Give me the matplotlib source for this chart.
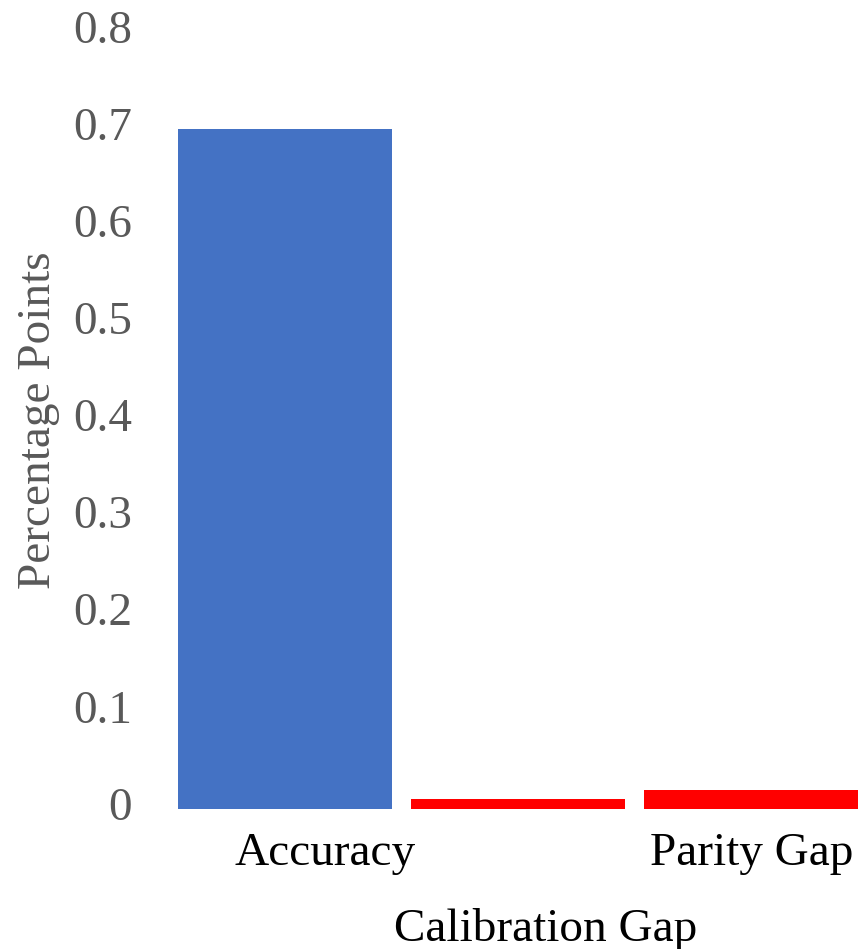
import matplotlib
matplotlib.use("Agg")
import matplotlib.pyplot as plt
from matplotlib.transforms import ScaledTranslation

# Data
categories = ["Accuracy", "Calibration Gap", "Parity Gap"]
values = [0.70, 0.01, 0.02]
bar_colors = ["#4472C4", "#FF0000", "#FF0000"]
y_ticks = [0, 0.1, 0.2, 0.3, 0.4, 0.5, 0.6, 0.7, 0.8]
y_tick_labels = ["0", "0.1", "0.2", "0.3", "0.4", "0.5", "0.6", "0.7", "0.8"]

plt.rcParams["font.family"] = ["Liberation Serif", "DejaVu Serif"]

W, H = 866, 949
fig = plt.figure(figsize=(W / 100, H / 100), dpi=100)
ax = fig.add_axes([168 / W, 140 / H, 700 / W, 777 / H])

x = list(range(len(categories)))
ax.bar(x, values, width=0.917, color=bar_colors, zorder=2)

ax.set_xlim(-0.5, 2.5)
ax.set_ylim(0, 0.8)
ax.set_yticks(y_ticks)
ax.set_yticklabels(y_tick_labels, fontsize=34, color="#595959")
ax.tick_params(axis="y", length=0, pad=26)
ax.tick_params(axis="x", length=0, pad=17)

# value labels sit slightly above their gridline positions
for lbl in ax.get_yticklabels():
    lbl.set_transform(lbl.get_transform() + ScaledTranslation(0, 4 / 72, fig.dpi_scale_trans))

ax.set_xticks(x)
ax.set_xticklabels(categories, fontsize=34, color="black")

# staggered category labels (points offsets)
offsets = [(29, 0), (20, -54), (0, 0)]
for lbl, (dx, dy) in zip(ax.get_xticklabels(), offsets):
    lbl.set_transform(lbl.get_transform() + ScaledTranslation(dx / 72, dy / 72, fig.dpi_scale_trans))

ax.set_ylabel("Percentage Points", fontsize=34, color="#595959")
ax.yaxis.set_label_coords(-0.154, 0.5)

for s in ax.spines.values():
    s.set_visible(False)

fig.savefig("out.png", dpi=100)
